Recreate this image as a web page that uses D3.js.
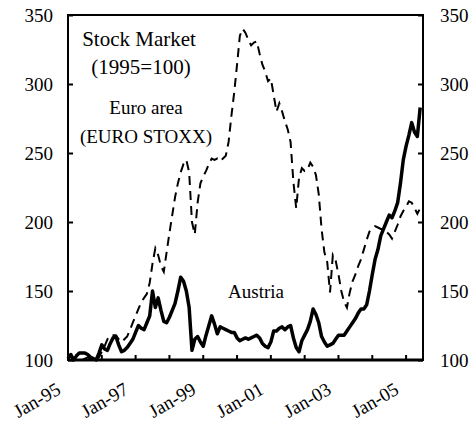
<!DOCTYPE html>
<html lang="en">
<head>
<meta charset="UTF-8">
<title>Stock Market</title>
<script src="https://d3js.org/d3.v7.min.js"></script>
<style>
  body { margin: 0; background: #fff; }
  svg text { font-family: "Liberation Serif", "Times New Roman", serif; fill: #000; }
  .tick-label { font-size: 19px; }
  .note { font-size: 19px; }
  .title { font-size: 21px; }
</style>
</head>
<body>
<svg width="474" height="421"></svg>
<script>
// monthly index values, Jan-95 .. Jun-05 (1995 = 100)
var startYear = 1995;

var austria = [
  101, 104, 100, 103, 105, 105, 105, 104, 102, 101, 100, 105,
  111, 108, 107, 112, 116, 117, 111, 106, 107, 109, 112, 115,
  120, 125, 123, 122, 127, 132, 150, 138, 145, 136, 128, 127,
  131, 136, 141, 150, 160, 157, 150, 138, 107, 115, 117, 113,
  110, 118, 125, 132, 126, 119, 124, 123, 122, 121, 120, 120,
  116, 114, 115, 116, 115, 116, 117, 118, 116, 112, 110, 109,
  113, 121, 121, 123, 124, 122, 124, 125, 116, 109, 106, 114,
  118, 122, 128, 137, 133, 127, 117, 113, 110, 111, 112, 115,
  118, 118, 118, 121, 124, 127, 130, 134, 137, 137, 140, 150,
  162, 173, 180, 190, 195, 200, 205, 203, 208, 214, 228, 245,
  255, 263, 272, 265, 262, 283
];

var euroStoxx = [
  100, 100, 100, 100, 100, 100, 101, 102, 101, 100, 101, 102,
  106, 110, 115, 118, 118, 118, 115, 113, 115, 117, 122, 127,
  132, 137, 142, 145, 148, 156, 170, 181, 176, 168, 164, 178,
  192, 205, 218, 228, 236, 242, 245, 236, 200, 191, 214, 228,
  233, 237, 242, 246, 245, 246, 244, 246, 248, 258, 277, 294,
  314, 335, 340, 337, 332, 328, 330, 331, 322, 314, 309, 302,
  304, 292, 280, 286, 280, 273, 267, 258, 229, 210, 232, 239,
  237, 238, 243, 240, 234, 220, 195, 178, 171, 149, 176, 172,
  162, 150, 142, 138, 149, 157, 162, 168, 173, 180, 187, 193,
  195, 197, 196, 195, 195, 193, 191, 188, 193, 198, 204, 208,
  211, 215, 214, 210, 206, 210
];

var yTicks = [100, 150, 200, 250, 300, 350];
var xTickLabels = ["Jan-95", "Jan-97", "Jan-99", "Jan-01", "Jan-03", "Jan-05"];

var margin = {top: 15, right: 51, bottom: 61, left: 68};
var width = 474 - margin.left - margin.right;
var height = 421 - margin.top - margin.bottom;

var svg = d3.select('svg')
  .append('g')
  .attr('transform', `translate(${margin.left}, ${margin.top})`);

var x = d3.scaleLinear()
  .domain([0, 126])
  .range([0, width]);

var y = d3.scaleLinear()
  .domain([100, 350])
  .range([height, 0]);

// yearly ticks on the month scale, labels every second year
var yearTicks = d3.range(0, 121, 12);

var line = d3.line()
  .x((d, i) => x(i))
  .y(d => y(d));

svg.append('path')
  .datum(euroStoxx)
  .attr('fill', 'none')
  .attr('stroke', '#000')
  .attr('stroke-width', 2)
  .attr('stroke-dasharray', '9,6')
  .attr('d', line);

svg.append('path')
  .datum(austria)
  .attr('fill', 'none')
  .attr('stroke', '#000')
  .attr('stroke-width', 3.5)
  .attr('stroke-linejoin', 'round')
  .attr('d', line);

// frame
svg.append('rect')
  .attr('x', 0).attr('y', 0)
  .attr('width', width).attr('height', height)
  .attr('fill', 'none')
  .attr('stroke', '#000')
  .attr('stroke-width', 2);

svg.append('line')
  .attr('x1', 0).attr('x2', width)
  .attr('y1', height).attr('y2', height)
  .attr('stroke', '#000')
  .attr('stroke-width', 3);

// left axis
var leftAxis = svg.append('g')
  .call(d3.axisLeft(y).tickValues(yTicks).tickSize(-5).tickPadding(15));
leftAxis.select('.domain').remove();
leftAxis.selectAll('line').attr('stroke-width', 2);
leftAxis.selectAll('text').attr('class', 'tick-label').attr('font-size', null).attr('font-family', null);

// right axis
var rightAxis = svg.append('g')
  .attr('transform', `translate(${width}, 0)`)
  .call(d3.axisRight(y).tickValues(yTicks).tickSize(-5).tickPadding(17));
rightAxis.select('.domain').remove();
rightAxis.selectAll('line').attr('stroke-width', 2);
rightAxis.selectAll('text').attr('class', 'tick-label').attr('font-size', null).attr('font-family', null);

// bottom ticks (inside)
svg.append('g')
  .selectAll('line')
  .data(yearTicks)
  .enter()
  .append('line')
  .attr('x1', d => x(d)).attr('x2', d => x(d))
  .attr('y1', height).attr('y2', height - 5)
  .attr('stroke', '#000')
  .attr('stroke-width', 2);

// bottom labels
svg.append('g')
  .selectAll('text')
  .data(xTickLabels)
  .enter()
  .append('text')
  .attr('class', 'tick-label')
  .attr('text-anchor', 'end')
  .attr('transform', (d, i) => `translate(${x(i * 24) - 6}, ${height + 33}) rotate(-30)`)
  .text(d => d);

// annotations
svg.append('text').attr('class', 'title').attr('text-anchor', 'middle')
  .attr('x', 139 - margin.left).attr('y', 46 - margin.top).text('Stock Market');
svg.append('text').attr('class', 'title').attr('text-anchor', 'middle')
  .attr('x', 141 - margin.left).attr('y', 74 - margin.top).text('(1995=100)');
svg.append('text').attr('class', 'note').attr('text-anchor', 'middle')
  .attr('x', 146 - margin.left).attr('y', 114 - margin.top).text('Euro area');
svg.append('text').attr('class', 'note').attr('text-anchor', 'middle')
  .attr('x', 146 - margin.left).attr('y', 143 - margin.top).text('(EURO STOXX)');
svg.append('text').attr('class', 'note').attr('text-anchor', 'middle')
  .attr('x', 256 - margin.left).attr('y', 298 - margin.top).text('Austria');
</script>
</body>
</html>
